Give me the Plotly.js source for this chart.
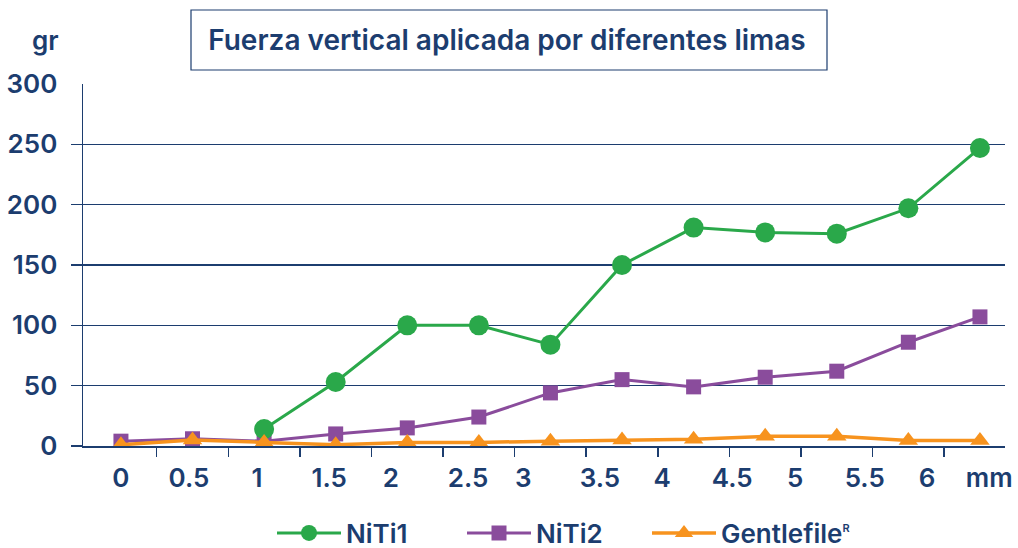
<!DOCTYPE html>
<html>
<head>
<meta charset="utf-8">
<script src="https://cdn.plot.ly/plotly-3.0.1.min.js"></script>
<style>html,body{margin:0;padding:0;background:#fff}#chart{width:1018px;height:548px}</style>
</head>
<body>
<div id="chart"></div>
<script>
// Data
const categories = ["0", "0.5", "1", "1.5", "2", "2.5", "3", "3.5", "4", "4.5", "5", "5.5", "6"];
const niti1 = [null, null, 14, 53, 100, 100, 84, 150, 181, 177, 176, 197, 247];
const niti2 = [4, 6, 4, 10, 15, 24, 44, 55, 49, 57, 62, 86, 107];
const gentle = [1, 5, 3, 1, 3, 3, 4, 5, 5.5, 8, 8, 4.5, 4.5];
const xTickLabels = ["0", "0.5", "1", "1.5", "2", "2.5", "3", "3.5", "4", "4.5", "5", "5.5", "6", "mm"];
const yTickValues = [0, 50, 100, 150, 200, 250, 300];

// Layout-only positions of the x labels (in category-index units)
const xLabelPos = [0, 0.95, 1.9, 2.91, 3.77, 4.85, 5.62, 6.69, 7.56, 8.54, 9.42, 10.39, 11.26, 12.13];

const NAVY = "#1c3d6f";
const FONT = "Inter, Liberation Sans, Arial, sans-serif";
const W = 600;
const xs = categories.map((_, i) => i);
const boundaries = categories.slice(1).map((_, i) => i + 0.5);

const traces = [
  {name: "NiTi2", legend: "legend2", x: xs, y: niti2, type: "scatter", mode: "lines+markers",
   line: {color: "#8a4c9c", width: 3}, marker: {symbol: "square", size: 15, color: "#8a4c9c"}},
  {name: "NiTi1", legend: "legend", x: xs, y: niti1, type: "scatter", mode: "lines+markers",
   line: {color: "#2aa84a", width: 3}, marker: {symbol: "circle", size: 20, color: "#2aa84a"}},
  {name: "Gentlefile<sup><span style='font-size:11px'>R</span></sup>", legend: "legend3", x: xs, y: gentle, type: "scatter", mode: "lines+markers",
   line: {color: "#f7931e", width: 3.5}, marker: {symbol: "triangle-up", size: 17, color: "#f7931e"}}
];

function legendAt(px) {
  return {orientation: "h", x: (px - 83) / 922, xanchor: "left", y: (446 - 533) / 362, yanchor: "middle",
          itemwidth: 64, font: {family: FONT, size: 26, color: NAVY, weight: W}, bgcolor: "rgba(0,0,0,0)"};
}

const layout = {
  width: 1018, height: 548,
  margin: {l: 83, r: 13, t: 84, b: 102, autoexpand: false},
  paper_bgcolor: "#fff", plot_bgcolor: "#fff",
  font: {family: FONT, color: NAVY, size: 26, weight: W},
  title: {text: "Fuerza vertical aplicada por diferentes limas",
          font: {family: FONT, size: 28, color: NAVY, weight: W},
          x: 0.498, xref: "container", xanchor: "center",
          y: 1 - 40 / 548, yref: "container", yanchor: "middle"},
  xaxis: {
    range: [-0.53, 12.35], showgrid: false, zeroline: false,
    showline: true, linecolor: NAVY, linewidth: 1.5,
    tickmode: "array", tickvals: xLabelPos, ticktext: xTickLabels, ticks: "",
    ticklabelstandoff: 8,
    tickfont: {family: FONT, size: 26, color: NAVY, weight: W},
    minor: {tickmode: "array", tickvals: boundaries, ticks: "outside", ticklen: 9, tickwidth: 1.5, tickcolor: NAVY, showgrid: false},
    fixedrange: true
  },
  yaxis: {
    range: [0, 300], showgrid: false, zeroline: false,
    showline: true, linecolor: NAVY, linewidth: 1.5,
    tickmode: "array", tickvals: yTickValues, ticktext: yTickValues.map(String), ticks: "",
    ticklabelstandoff: 19,
    tickfont: {family: FONT, size: 26, color: NAVY, weight: W},
    minor: {tickmode: "array", tickvals: yTickValues.slice(0, -1), ticks: "outside", ticklen: 11, tickwidth: 1.3, tickcolor: NAVY,
            showgrid: true, gridcolor: NAVY, gridwidth: 1.3},
    fixedrange: true
  },
  showlegend: true,
  legend: legendAt(272),
  legend2: legendAt(462),
  legend3: legendAt(647),
  shapes: [
    {type: "rect", xref: "paper", yref: "paper",
     x0: (191 - 83) / 922, x1: (827 - 83) / 922, y0: (446 - 70) / 362, y1: (446 - 10) / 362,
     line: {color: NAVY, width: 1.2}, fillcolor: "rgba(0,0,0,0)"}
  ],
  annotations: [
    {text: "gr", xref: "paper", yref: "paper", x: (45.5 - 83) / 922, y: (446 - 40) / 362,
     xanchor: "center", yanchor: "middle", showarrow: false,
     font: {family: FONT, size: 26, color: NAVY, weight: W}}
  ]
};

Plotly.newPlot("chart", traces, layout, {displayModeBar: false, staticPlot: true});
</script>
</body>
</html>
